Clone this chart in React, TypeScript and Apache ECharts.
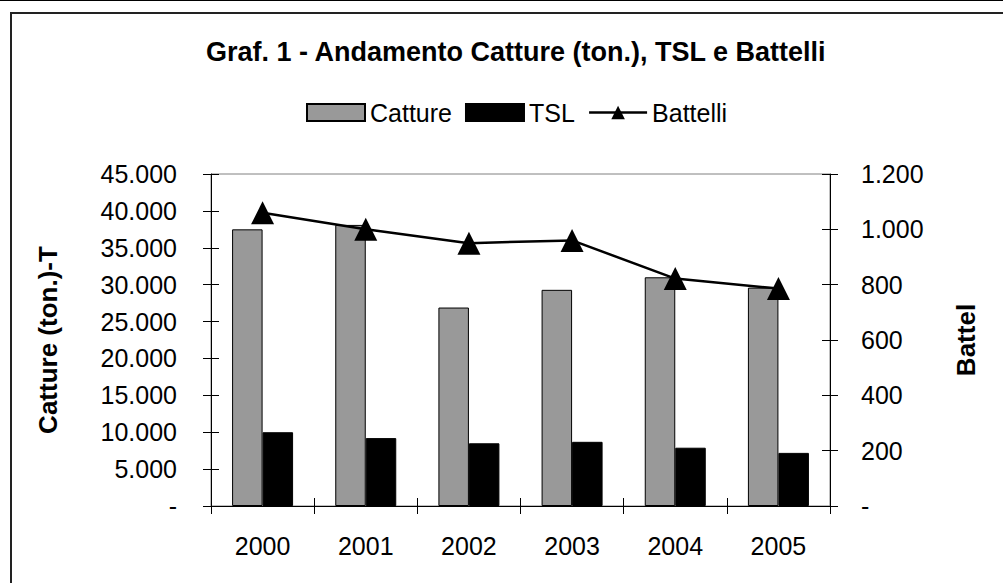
import React, { useEffect, useRef } from "react";
import * as echarts from "echarts";

const years = ["2000", "2001", "2002", "2003", "2004", "2005"];
const catture = [37500, 38100, 26900, 29300, 31000, 29600];
const tsl = [10000, 9200, 8500, 8700, 7900, 7200];
const battelli = [1060, 1000, 950, 960, 822, 786];

const FONT = "'Liberation Sans', Arial, sans-serif";

function fmt(v: number): string {
  if (v === 0) return "-";
  return String(v).replace(/\B(?=(\d{3})+(?!\d))/g, ".");
}

export default function App() {
  const ref = useRef<HTMLDivElement>(null);
  useEffect(() => {
    if (!ref.current) return;
    const chart = echarts.init(ref.current, undefined, { renderer: "svg" });
    const tickStyle = { color: "#000", width: 1 };
    chart.setOption({
      animation: false,
      backgroundColor: "#fff",
      textStyle: { fontFamily: FONT },
      title: {
        text: "Graf. 1 - Andamento Catture (ton.), TSL e Battelli",
        left: 206,
        top: 38,
        padding: 0,
        textStyle: { fontFamily: FONT, fontSize: 27, fontWeight: "bold", color: "#000" },
      },
      legend: {
        left: 306,
        top: 100,
        padding: 0,
        itemWidth: 58,
        itemHeight: 17,
        itemGap: 13,
        textStyle: { fontFamily: FONT, fontSize: 25, color: "#000" },
        data: [
          { name: "Catture", icon: "rect" },
          { name: "TSL", icon: "rect" },
          { name: "Battelli", lineStyle: { width: 2.5, color: "#000" } },
        ],
      },
      graphic: [
        { type: "line", shape: { x1: 0, y1: 0.5, x2: 1003, y2: 0.5 }, style: { stroke: "#000", lineWidth: 1 } },
        { type: "rect", shape: { x: 11, y: 13, width: 1100, height: 700 }, style: { fill: "none", stroke: "#222", lineWidth: 2 } },
      ],
      grid: {
        left: 211,
        right: 173,
        top: 174,
        bottom: 77,
        show: true,
        borderColor: "#808080",
        borderWidth: 1,
      },
      xAxis: [
        {
          type: "category",
          data: years,
          boundaryGap: true,
          axisLine: { lineStyle: { color: "#000", width: 1 } },
          axisTick: { show: true, interval: 0, length: 8, inside: false, lineStyle: tickStyle },
          axisLabel: { fontFamily: FONT, fontSize: 25, color: "#000", margin: 27 },
        },
        {
          type: "category",
          data: years,
          position: "bottom",
          boundaryGap: true,
          axisLine: { show: false },
          axisTick: { show: true, interval: 0, length: 8, inside: true, lineStyle: tickStyle },
          axisLabel: { show: false },
        },
      ],
      yAxis: [
        {
          type: "value",
          position: "left",
          min: 0,
          max: 45000,
          interval: 5000,
          name: "Catture (ton.)-T",
          nameLocation: "middle",
          nameRotate: 90,
          nameGap: 150,
          nameTextStyle: { fontFamily: FONT, fontSize: 26, fontWeight: "bold", color: "#000" },
          axisLine: { show: true, lineStyle: { color: "#000", width: 1 } },
          axisTick: { show: true, length: 8, inside: false, lineStyle: tickStyle },
          axisLabel: { fontFamily: FONT, fontSize: 25, color: "#000", margin: 34, formatter: fmt },
          splitLine: { show: false },
        },
        {
          type: "value",
          position: "right",
          min: 0,
          max: 1200,
          interval: 200,
          name: "Battel",
          nameLocation: "middle",
          nameRotate: 90,
          nameGap: 123,
          nameTextStyle: { fontFamily: FONT, fontSize: 26, fontWeight: "bold", color: "#000" },
          axisLine: { show: true, lineStyle: { color: "#000", width: 1 } },
          axisTick: { show: true, length: 8, inside: false, lineStyle: tickStyle },
          axisLabel: { fontFamily: FONT, fontSize: 25, color: "#000", margin: 31, formatter: fmt },
          splitLine: { show: false },
        },
        {
          type: "value",
          position: "left",
          min: 0,
          max: 45000,
          interval: 5000,
          axisLine: { show: false },
          axisTick: { show: true, length: 8, inside: true, lineStyle: tickStyle },
          axisLabel: { show: false },
          splitLine: { show: false },
        },
        {
          type: "value",
          position: "right",
          min: 0,
          max: 1200,
          interval: 200,
          axisLine: { show: false },
          axisTick: { show: true, length: 8, inside: true, lineStyle: tickStyle },
          axisLabel: { show: false },
          splitLine: { show: false },
        },
      ],
      series: [
        {
          name: "Catture",
          type: "bar",
          data: catture,
          barWidth: 30.5,
          barGap: "0%",
          itemStyle: { color: "#999999", borderColor: "#000", borderWidth: 1 },
        },
        {
          name: "TSL",
          type: "bar",
          data: tsl,
          barWidth: 30.5,
          barGap: "0%",
          itemStyle: { color: "#000", borderColor: "#000", borderWidth: 1 },
        },
        {
          name: "Battelli",
          type: "line",
          yAxisIndex: 1,
          data: battelli,
          symbol: "triangle",
          symbolSize: 23,
          lineStyle: { color: "#000", width: 2.5 },
          itemStyle: { color: "#000" },
          z: 5,
        },
      ],
    });
    return () => chart.dispose();
  }, []);
  return (
    <div
      ref={ref}
      style={{ position: "fixed", left: 0, top: 0, width: 1003, height: 583, background: "#fff" }}
    />
  );
}
